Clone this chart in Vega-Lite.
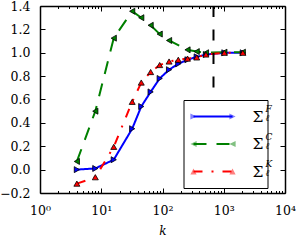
{
  "$schema": "https://vega.github.io/schema/vega-lite/v6.json",
  "width": 245,
  "height": 187,
  "autosize": "none",
  "padding": {"left": 40, "top": 6, "right": 11, "bottom": 47},
  "config": {
    "font": "DejaVu Serif",
    "view": {"stroke": null},
    "axis": {"domainColor": "black", "domainWidth": 1.5, "tickColor": "black", "tickWidth": 1, "labelFont": "DejaVu Serif", "labelFontSize": 12.5, "labelColor": "black", "titleFont": "DejaVu Serif", "titleColor": "black", "grid": false}
  },
  "data": {"values": [
    {"k": 4, "v": 0.0, "series": "F"}, {"k": 8, "v": 0.01, "series": "F"}, {"k": 16, "v": 0.085, "series": "F"}, {"k": 32, "v": 0.35, "series": "F"}, {"k": 45, "v": 0.54, "series": "F"}, {"k": 64, "v": 0.665, "series": "F"}, {"k": 90, "v": 0.78, "series": "F"}, {"k": 128, "v": 0.855, "series": "F"}, {"k": 181, "v": 0.905, "series": "F"}, {"k": 256, "v": 0.94, "series": "F"}, {"k": 362, "v": 0.965, "series": "F"}, {"k": 512, "v": 0.985, "series": "F"}, {"k": 1024, "v": 1.0, "series": "F"}, {"k": 2048, "v": 1.0, "series": "F"},
    {"k": 4, "v": 0.07, "series": "C"}, {"k": 8, "v": 0.5, "series": "C"}, {"k": 16, "v": 1.125, "series": "C"}, {"k": 32, "v": 1.355, "series": "C"}, {"k": 45, "v": 1.3, "series": "C"}, {"k": 64, "v": 1.235, "series": "C"}, {"k": 90, "v": 1.16, "series": "C"}, {"k": 128, "v": 1.105, "series": "C"}, {"k": 256, "v": 1.025, "series": "C"}, {"k": 362, "v": 1.01, "series": "C"}, {"k": 512, "v": 1.0, "series": "C"}, {"k": 1024, "v": 1.005, "series": "C"}, {"k": 2048, "v": 1.005, "series": "C"},
    {"k": 4, "v": -0.12, "series": "K"}, {"k": 8, "v": -0.065, "series": "K"}, {"k": 16, "v": 0.195, "series": "K"}, {"k": 32, "v": 0.58, "series": "K"}, {"k": 45, "v": 0.745, "series": "K"}, {"k": 64, "v": 0.835, "series": "K"}, {"k": 90, "v": 0.895, "series": "K"}, {"k": 128, "v": 0.925, "series": "K"}, {"k": 181, "v": 0.94, "series": "K"}, {"k": 256, "v": 0.95, "series": "K"}, {"k": 362, "v": 0.96, "series": "K"}, {"k": 512, "v": 0.985, "series": "K"}, {"k": 1024, "v": 1.0, "series": "K"}, {"k": 2048, "v": 1.0, "series": "K"}
  ]},
  "resolve": {"scale": {"shape": "independent", "fill": "independent"}},
  "layer": [
    {
      "mark": {"type": "line", "strokeWidth": 2},
      "encoding": {
        "x": {"field": "k", "type": "quantitative", "scale": {"type": "log", "domain": [1, 10000]},
          "axis": {"orient": "bottom", "values": [1,2,3,4,5,6,7,8,9,10,20,30,40,50,60,70,80,90,100,200,300,400,500,600,700,800,900,1000,2000,3000,4000,5000,6000,7000,8000,9000,10000],
            "labelExpr": "datum.value==1?'10⁰':datum.value==10?'10¹':datum.value==100?'10²':datum.value==1000?'10³':datum.value==10000?'10⁴':''",
            "tickSize": {"condition": {"test": "indexof([1,10,100,1000,10000], datum.value) >= 0", "value": -5}, "value": -2.5},
            "labelPadding": 16, "labelFlush": false, "labelOverlap": false,
            "title": "k", "titleFontStyle": "italic", "titleFontWeight": "normal", "titleFontSize": 12, "titlePadding": 6}},
        "y": {"field": "v", "type": "quantitative", "scale": {"domain": [-0.2, 1.4], "nice": false, "zero": false},
          "axis": {"orient": "left", "values": [-0.2, 0, 0.2, 0.4, 0.6, 0.8, 1.0, 1.2, 1.4], "format": ".1f", "tickSize": -5, "labelPadding": 15, "title": null}},
        "color": {"field": "series", "type": "nominal", "scale": {"domain": ["F", "C", "K"], "range": ["#0000ff", "#008000", "#ff0000"]},
          "legend": {"orient": "none", "legendX": 143.5, "legendY": 94, "title": null, "padding": 4, "strokeColor": "black", "fillColor": "white", "cornerRadius": 0, "symbolType": "stroke", "symbolSize": 1521, "symbolStrokeWidth": 2, "clipHeight": 25, "rowPadding": 2.5, "symbolOffset": 5, "labelOffset": 19, "labelFont": "DejaVu Serif", "labelFontSize": 15.5, "labelColor": "black", "labelExpr": "'Σ '"}},
        "strokeDash": {"field": "series", "type": "nominal", "scale": {"domain": ["F", "C", "K"], "range": [[1, 0], [13, 10], [9, 9, 2, 9]]},
          "legend": {"orient": "none", "legendX": 143.5, "legendY": 94, "title": null, "padding": 4, "strokeColor": "black", "fillColor": "white", "cornerRadius": 0, "symbolType": "stroke", "symbolSize": 1521, "symbolStrokeWidth": 2, "clipHeight": 25, "rowPadding": 2.5, "symbolOffset": 5, "labelOffset": 19, "labelFont": "DejaVu Serif", "labelFontSize": 15.5, "labelColor": "black", "labelExpr": "'Σ '"}}
      }
    },
    {
      "mark": {"type": "point", "filled": true, "stroke": "black", "strokeWidth": 0.8, "size": 36, "opacity": 1},
      "encoding": {
        "x": {"field": "k", "type": "quantitative",
          "axis": {"orient": "top", "values": [1,2,3,4,5,6,7,8,9,10,20,30,40,50,60,70,80,90,100,200,300,400,500,600,700,800,900,1000,2000,3000,4000,5000,6000,7000,8000,9000,10000],
            "labels": false, "title": null,
            "tickSize": {"condition": {"test": "indexof([1,10,100,1000,10000], datum.value) >= 0", "value": -5}, "value": -2.5}}},
        "y": {"field": "v", "type": "quantitative",
          "axis": {"orient": "right", "values": [-0.2, 0, 0.2, 0.4, 0.6, 0.8, 1.0, 1.2, 1.4], "labels": false, "tickSize": -5, "title": null}},
        "color": {"field": "series", "type": "nominal", "legend": null},
        "shape": {"field": "series", "type": "nominal", "scale": {"domain": ["F", "C", "K"], "range": ["triangle-right", "triangle-left", "triangle-up"]}, "legend": null}
      }
    },
    {
      "data": {"values": [{"k": 680}]},
      "mark": {"type": "rule", "color": "black", "strokeWidth": 2, "strokeDash": [11, 12.5]},
      "encoding": {"x": {"field": "k", "type": "quantitative", "axis": null}}
    },
    {
      "transform": [{"filter": "datum.k < 0"}],
      "mark": {"type": "point", "filled": true, "stroke": "black", "strokeWidth": 1},
      "encoding": {
        "shape": {"field": "series", "type": "nominal", "scale": {"domain": ["F", "C", "K"], "range": [
            "M-1.16,-0.237L-1.16,0.083L-0.84,-0.077ZM0.84,-0.237L0.84,0.083L1.16,-0.077Z",
            "M-0.84,-0.237L-0.84,0.083L-1.16,-0.077ZM1.16,-0.237L1.16,0.083L0.84,-0.077Z",
            "M-1.16,0.083L-0.84,0.083L-1,-0.237ZM0.84,0.083L1.16,0.083L1,-0.237Z"]},
          "legend": {"orient": "none", "legendX": 143.5, "legendY": 95.5, "title": null, "padding": 4, "symbolSize": 1521, "symbolStrokeWidth": 1, "symbolStrokeColor": "black", "clipHeight": 25, "rowPadding": 2.5, "symbolOffset": 5.5, "labelOffset": 32.5, "labelFont": "DejaVu Serif", "labelFontStyle": "italic", "labelFontSize": 9, "labelColor": "black", "labelExpr": "'ℓ'"}},
        "fill": {"field": "series", "type": "nominal", "scale": {"domain": ["F", "C", "K"], "range": ["#0000ff", "#008000", "#ff0000"]},
          "legend": {"orient": "none", "legendX": 143.5, "legendY": 95.5, "title": null, "padding": 4, "symbolSize": 1521, "symbolStrokeWidth": 1, "symbolStrokeColor": "black", "clipHeight": 25, "rowPadding": 2.5, "symbolOffset": 5.5, "labelOffset": 32.5, "labelFont": "DejaVu Serif", "labelFontStyle": "italic", "labelFontSize": 9, "labelColor": "black", "labelExpr": "'ℓ'"}}
      }
    },
    {
      "transform": [{"filter": "datum.k < 0"}],
      "mark": {"type": "point"},
      "encoding": {
        "shape": {"field": "series", "type": "nominal", "scale": {"domain": ["F", "C", "K"], "range": ["M0,0", "M0,0", "M0,0"]},
          "legend": {"orient": "none", "legendX": 143.5, "legendY": 86.7, "title": null, "padding": 4, "symbolSize": 1521, "symbolStrokeWidth": 1, "symbolOpacity": 0, "clipHeight": 25, "rowPadding": 2.5, "symbolOffset": 5.5, "labelOffset": 32.5, "labelFont": "DejaVu Serif", "labelFontStyle": "italic", "labelFontSize": 9, "labelColor": "black"}}
      }
    }
  ]
}
